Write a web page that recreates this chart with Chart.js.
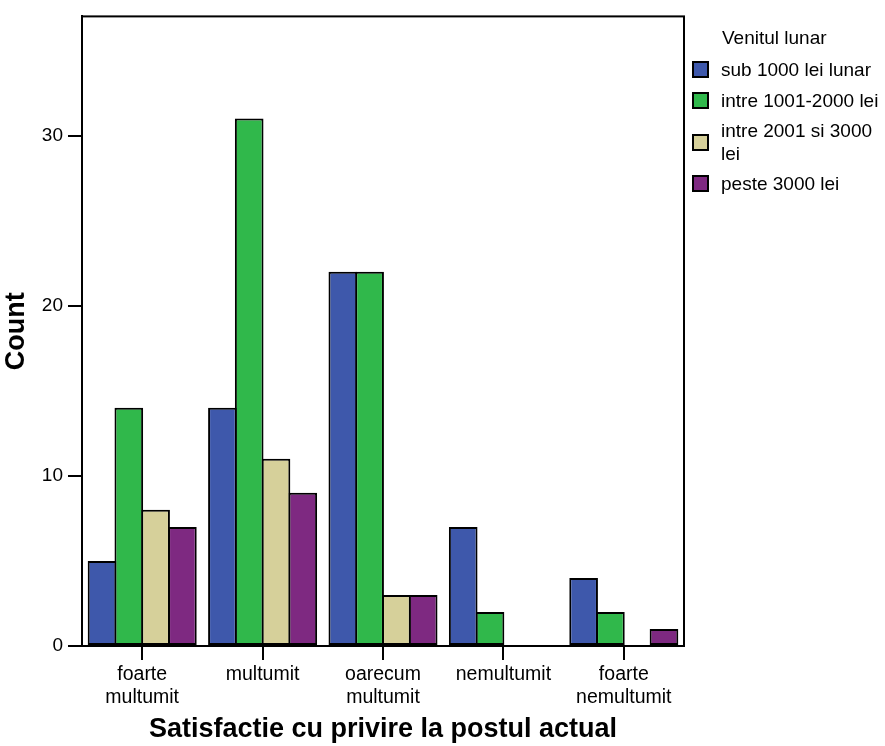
<!DOCTYPE html>
<html>
<head>
<meta charset="utf-8">
<script src="https://cdn.jsdelivr.net/npm/chart.js@4/dist/chart.umd.min.js"></script>
<style>
    body { margin: 0; background: #fff; }
    .wrap { position: relative; width: 885px; height: 746px; }
    .legend { position: absolute; left: 692px; top: 24px; font-family: "Liberation Sans", Arial, sans-serif; font-size: 19px; color: #000; }
    .legend-title { position: absolute; left: 30px; top: 3px; white-space: nowrap; }
    .legend-item { position: absolute; left: 0; display: flex; align-items: center; }
    .legend-box { width: 13px; height: 13px; border: 2px solid #000; margin-right: 12px; flex: none; }
    .legend-text { line-height: 23px; width: 160px; }
</style>
</head>
<body>
<div class="wrap">
    <canvas id="chart" width="885" height="746"></canvas>
    <div class="legend" id="legend"></div>
</div>
<script>
// ── 数据 ──────────────────────
const categories = [['foarte', 'multumit'], 'multumit', ['oarecum', 'multumit'], 'nemultumit', ['foarte', 'nemultumit']];
const seriesNames = ['sub 1000 lei lunar', 'intre 1001-2000 lei', 'intre 2001 si 3000 lei', 'peste 3000 lei'];
const seriesColors = ['#3e58ab', '#30b84b', '#d6d09a', '#7e2981'];
// null = bara lipseste (0)
const sub1000 = [5, 14, 22, 7, 4];
const intre1001 = [14, 31, 22, 2, 2];
const intre2001 = [8, 11, 3, null, null];
const peste3000 = [7, 9, 3, null, 1];
const yTicks = [0, 10, 20, 30];
const legendTitle = 'Venitul lunar';
const xTitle = 'Satisfactie cu privire la postul actual';
const yTitle = 'Count';

const seriesData = [sub1000, intre1001, intre2001, peste3000];
const FONT = '"Liberation Sans", Arial, sans-serif';

// ── 外框 ──────────────────────
const framePlugin = {
    id: 'frame',
    afterDraw(chart) {
        const { ctx, chartArea: a } = chart;
        ctx.save();
        ctx.strokeStyle = '#000';
        ctx.lineWidth = 2;
        ctx.strokeRect(a.left, a.top, a.right - a.left, a.bottom - a.top);
        ctx.restore();
    }
};

new Chart(document.getElementById('chart').getContext('2d'), {
    type: 'bar',
    data: {
        labels: categories,
        datasets: seriesData.map((d, i) => ({
            label: seriesNames[i],
            data: d,
            backgroundColor: seriesColors[i],
            borderColor: '#000',
            borderWidth: 2,
            borderSkipped: false,
            barPercentage: 1.07,   // 相邻柱子边框重叠
            categoryPercentage: 0.89,
        }))
    },
    options: {
        responsive: false,
        animation: false,
        layout: { padding: { left: 0, top: 15, right: 201, bottom: 0 } },
        plugins: { legend: { display: false }, tooltip: { enabled: false } },
        scales: {
            x: {
                grid: { offset: false, drawOnChartArea: false, drawTicks: true, tickLength: 14, color: '#000', lineWidth: 2 },
                border: { color: '#000', width: 2 },
                ticks: { color: '#000', font: { family: FONT, size: 19.5 }, padding: 3, maxRotation: 0, autoSkip: false },
                title: { display: true, text: xTitle, color: '#000', font: { family: FONT, size: 27, weight: 'bold' }, padding: { top: 0, bottom: 0 } },
                afterFit: s => { s.height = 100; }
            },
            y: {
                min: 0,
                max: 37,
                afterBuildTicks: s => { s.ticks = yTicks.map(v => ({ value: v })); },
                grid: { drawOnChartArea: false, drawTicks: true, tickLength: 14, color: '#000', lineWidth: 2 },
                border: { color: '#000', width: 2 },
                ticks: { color: '#000', font: { family: FONT, size: 19 }, padding: 5 },
                title: { display: true, text: yTitle, color: '#000', font: { family: FONT, size: 27, weight: 'bold' }, padding: { top: 0, bottom: 0 } },
                afterFit: s => { s.width = 82; }
            }
        }
    },
    plugins: [framePlugin]
});

// ── 图例 ──────────────────────
const legendTops = [34, 65, 95, 148];
const legend = document.getElementById('legend');
legend.innerHTML = `<div class="legend-title">${legendTitle}</div>` +
    seriesNames.map((n, i) => `<div class="legend-item" style="top:${legendTops[i]}px">
        <div class="legend-box" style="background:${seriesColors[i]}"></div>
        <div class="legend-text">${n}</div>
    </div>`).join('');
</script>
</body>
</html>
